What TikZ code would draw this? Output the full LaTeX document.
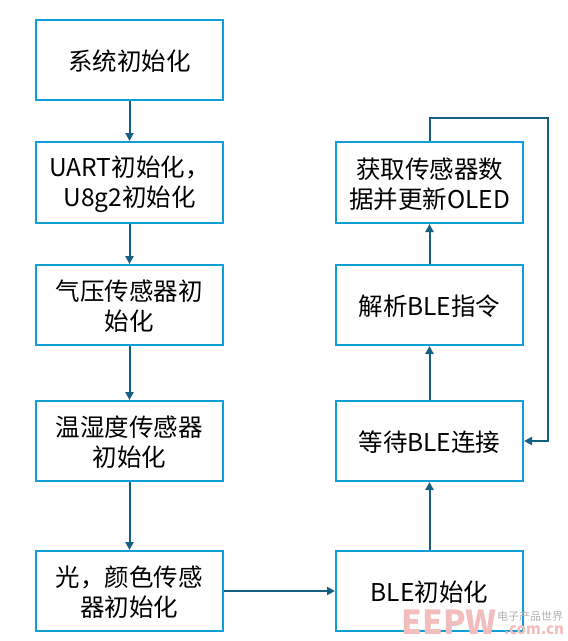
\documentclass[tikz,border=0pt]{standalone}
\usepackage{fontspec}
\setmainfont{Noto Sans CJK SC}
\usetikzlibrary{arrows.meta}
\definecolor{boxblue}{HTML}{0F9ED5}
\definecolor{linkblue}{HTML}{156082}
\definecolor{markpink}{HTML}{F2BDBD}
\tikzset{
	stepbox/.style = {draw = boxblue, line width = 2pt, minimum width = 187pt, inner sep = 0pt,
		text width = 172pt, align = center, font = \fontsize{24.5pt}{30pt}\selectfont,
		execute at begin node = \rule{0pt}{23.5pt}},
	link/.style = {draw = linkblue, line width = 2pt, -{Triangle[length = 8pt, width = 8pt]}}
}
\begin{document}
\begin{tikzpicture}[x = 1pt, y = -1pt]
\useasboundingbox (0,0) rectangle (568,641);
\node[stepbox, minimum height = 80pt] (sysinit) at (129.5,60) {系统初始化};
\node[stepbox, minimum height = 81pt] (uartinit) at (129.5,182.5) {UART初始化，\\U8g2初始化};
\node[stepbox, minimum height = 80pt] (pressinit) at (129.5,305) {气压传感器初\\始化};
\node[stepbox, minimum height = 80pt] (huminit) at (129.5,441) {温湿度传感器\\初始化};
\node[stepbox, minimum height = 80pt] (lightinit) at (129.5,591) {光，颜色传感\\器初始化};
\node[stepbox, minimum height = 80pt] (bleinit) at (429.5,591) {BLE初始化};
\node[stepbox, minimum height = 80pt] (blewait) at (429.5,441) {等待BLE连接};
\node[stepbox, minimum height = 80pt] (bleparse) at (429.5,305) {解析BLE指令};
\node[stepbox, minimum height = 81pt] (sensorread) at (429.5,182.5) {获取传感器数\\据并更新OLED};
\foreach \a / \b in {sysinit/uartinit,uartinit/pressinit,pressinit/huminit,huminit/lightinit,
	lightinit/bleinit,bleinit/blewait,blewait/bleparse,bleparse/sensorread}
{
	\draw[link] (\a) -- (\b);
}
\coordinate (loopleft) at (429.5,118);
\coordinate (loopright) at (548,118);
\coordinate (loopdown) at (548,441);
\draw[link] (sensorread) -- (loopleft) -- (loopright) -- (loopdown) -- (blewait);
% watermark
\node[text = markpink, font = \fontsize{33pt}{33pt}\selectfont\bfseries, inner sep = 0pt] (markname) at (449,622) {EEPW};
\node[text = black!30, font = \fontsize{11pt}{11pt}\selectfont, inner sep = 0pt, text height = 8pt, text depth = 1pt] (markzh) at (530,617) {电子产品世界};
\node[text = markpink, font = \fontsize{15pt}{15pt}\selectfont\bfseries, inner sep = 0pt, text height = 8pt, text depth = 0pt] (markweb) at (534,630) {.com.cn};
\end{tikzpicture}
\end{document}
